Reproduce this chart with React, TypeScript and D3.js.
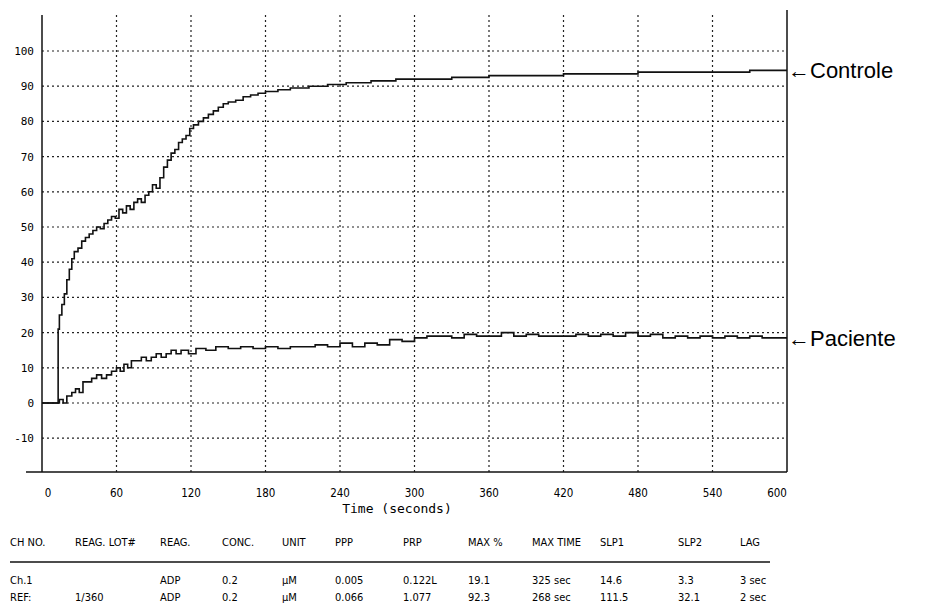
import React from 'react';
import * as d3 from 'd3';

const yTicks = [100, 90, 80, 70, 60, 50, 40, 30, 20, 10, 0, -10];
const xTicks = [0, 60, 120, 180, 240, 300, 360, 420, 480, 540, 600];

// [seconds, %]
const controle: [number, number][] = [
  [0, 0], [12, 0], [13, 21], [14, 25], [16, 28], [18, 31], [20, 35], [22, 38], [24, 41], [26, 43],
  [29, 44], [32, 46], [35, 47], [38, 48], [41, 49], [44, 50], [47, 49.5], [50, 51], [53, 52], [56, 53], [59, 52.5],
  [62, 55], [65, 54], [68, 56], [71, 55], [74, 57], [77, 58], [80, 57], [83, 59], [86, 60], [89, 62],
  [92, 61], [95, 64], [98, 67], [101, 69], [104, 71], [107, 72], [110, 74], [113, 75], [116, 76], [119, 78],
  [122, 79], [126, 80], [130, 81], [134, 82], [138, 83], [142, 84], [146, 85], [150, 85.5], [156, 86], [162, 87],
  [168, 87.5], [174, 88], [180, 88.5], [190, 89], [200, 89.5], [215, 90], [230, 90.5], [245, 91], [265, 91.5], [285, 92],
  [305, 92], [330, 92.5], [360, 93], [390, 93], [420, 93.5], [450, 93.5], [480, 94], [510, 94], [540, 94], [570, 94.5], [600, 94.5],
];

const paciente: [number, number][] = [
  [0, 0], [13, 0], [14, 1], [17, 0], [20, 2], [24, 3], [27, 4], [30, 3], [33, 6], [36, 6],
  [40, 7], [44, 8], [48, 7], [52, 8], [56, 9], [60, 10], [63, 9], [66, 11], [69, 10], [72, 12],
  [76, 12], [80, 13], [84, 12], [88, 13], [92, 14], [96, 13], [100, 14], [104, 15], [108, 14], [112, 15],
  [118, 14], [124, 15.5], [132, 15], [140, 16], [150, 15.5], [160, 16], [170, 15.5], [180, 16], [190, 15.5], [200, 16],
  [210, 16], [220, 16.5], [230, 16], [240, 17], [250, 16], [260, 17], [270, 16.5], [280, 18], [290, 17.5], [300, 18.5],
  [310, 19], [320, 19], [330, 18.5], [340, 19.5], [350, 19], [360, 19], [370, 20], [380, 19], [390, 19.5], [400, 19],
  [410, 19], [420, 19], [430, 19.5], [440, 19], [450, 19.5], [460, 19], [470, 20], [480, 19], [490, 19.5], [500, 18.5],
  [510, 19], [520, 18.5], [530, 19], [540, 18.5], [550, 19], [560, 18.5], [570, 19], [580, 18.5], [590, 18.5], [600, 18.5],
];

const headers = ['CH NO.', 'REAG. LOT#', 'REAG.', 'CONC.', 'UNIT', 'PPP', 'PRP', 'MAX %', 'MAX TIME', 'SLP1', 'SLP2', 'LAG'];
const rowCh1 = ['Ch.1', '', 'ADP', '0.2', 'µM', '0.005', '0.122L', '19.1', '325 sec', '14.6', '3.3', '3 sec'];
const rowRef = ['REF:', '1/360', 'ADP', '0.2', 'µM', '0.066', '1.077', '92.3', '268 sec', '111.5', '32.1', '2 sec'];
const colX = [10, 75, 160, 222, 282, 335, 403, 468, 532, 600, 678, 740];

const x = d3.scaleLinear().domain([0, 600]).range([42, 787]);
const y = d3.scaleLinear().domain([0, 100]).range([403, 51]);

export default function App() {
  const line = d3.line<[number, number]>().x(d => x(d[0])).y(d => y(d[1])).curve(d3.curveStepAfter);
  const mono = 'DejaVu Sans Mono, monospace';
  const cond = 'DejaVu Sans Condensed, DejaVu Sans, sans-serif';
  return (
    <svg width={935} height={604} style={{ position: 'absolute', left: 0, top: 0, background: '#fff' }}>
      {yTicks.map(t => (
        <g key={t}>
          <line x1={42} x2={787} y1={y(t)} y2={y(t)} stroke="#222" strokeWidth={1.2} strokeDasharray="2,3" />
          <text x={34} y={y(t) + 4} textAnchor="end" fontFamily={mono} fontSize={11}>{t}</text>
        </g>
      ))}
      {xTicks.slice(1, -1).map(t => (
        <line key={t} x1={x(t)} x2={x(t)} y1={15} y2={472} stroke="#222" strokeWidth={1.2} strokeDasharray="2,3" />
      ))}
      {xTicks.map(t => (
        <text key={t} x={x(t) + (t === 0 ? 6 : t === 600 ? -10 : 0)} y={497} textAnchor="middle" fontFamily={cond} fontSize={11.5}>{t}</text>
      ))}
      <line x1={42} x2={42} y1={15} y2={472} stroke="#111" strokeWidth={1.5} />
      <line x1={787} x2={787} y1={10} y2={472} stroke="#111" strokeWidth={1.5} />
      <line x1={26} x2={787} y1={472} y2={472} stroke="#111" strokeWidth={1.5} />
      <text x={397} y={513} textAnchor="middle" fontFamily={mono} fontSize={13}>Time (seconds)</text>
      <path d={line(controle) ?? ''} fill="none" stroke="#111" strokeWidth={1.6} />
      <path d={line(paciente) ?? ''} fill="none" stroke="#111" strokeWidth={1.6} />
      <text x={788} y={y(94.5) + 8} fontFamily="Liberation Sans, Arial, sans-serif" fontSize={22}>←Controle</text>
      <text x={788} y={y(18.5) + 8} fontFamily="Liberation Sans, Arial, sans-serif" fontSize={22}>←Paciente</text>
      {headers.map((h, i) => (
        <text key={h} x={colX[i]} y={546} fontFamily={cond} fontSize={11}>{h}</text>
      ))}
      <line x1={10} x2={770} y1={562} y2={562} stroke="#111" strokeWidth={1.5} />
      {rowCh1.map((v, i) => (
        <text key={'a' + i} x={colX[i]} y={584} fontFamily={cond} fontSize={11}>{v}</text>
      ))}
      {rowRef.map((v, i) => (
        <text key={'b' + i} x={colX[i]} y={601} fontFamily={cond} fontSize={11}>{v}</text>
      ))}
    </svg>
  );
}
